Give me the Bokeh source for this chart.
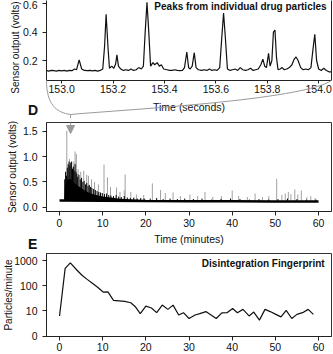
import numpy as np
from bokeh.plotting import figure
from bokeh.layouts import column
from bokeh.models import (Range1d, LinearAxis, FixedTicker, Label, Arrow, NormalHead,
                          PrintfTickFormatter)
from bokeh.core.properties import value
from bokeh.embed import file_html
from bokeh.resources import INLINE

FONT = "Liberation Sans"

# ---------------- Panel C: one-second window (seconds, volts) ----------------
c_time = [152.940, 152.950, 152.960, 152.970, 152.980, 152.990, 153.000, 153.010, 153.020, 153.030,
          153.040, 153.050, 153.058, 153.068, 153.078, 153.088, 153.100, 153.110, 153.120, 153.130,
          153.140, 153.150, 153.160, 153.167, 153.173, 153.180, 153.186, 153.195, 153.203, 153.210,
          153.215, 153.221, 153.230, 153.240, 153.250, 153.260, 153.270, 153.280, 153.290, 153.300,
          153.310, 153.318, 153.325, 153.332, 153.339, 153.346, 153.355, 153.362, 153.372, 153.380,
          153.388, 153.397, 153.410, 153.420, 153.430, 153.440, 153.450, 153.460, 153.470, 153.478,
          153.487, 153.494, 153.500, 153.508, 153.516, 153.523, 153.532, 153.545, 153.555, 153.565,
          153.575, 153.585, 153.595, 153.605, 153.615, 153.623, 153.630, 153.637, 153.645, 153.655,
          153.665, 153.675, 153.685, 153.695, 153.705, 153.715, 153.725, 153.735, 153.745, 153.755,
          153.765, 153.775, 153.783, 153.790, 153.797, 153.805, 153.811, 153.818, 153.824, 153.830,
          153.836, 153.842, 153.850, 153.858, 153.866, 153.876, 153.886, 153.896, 153.905, 153.912,
          153.920, 153.930, 153.940, 153.950, 153.960, 153.970, 153.978, 153.985, 153.992, 154.000,
          154.010, 154.020, 154.030, 154.040, 154.048]
c_volts = [0.130, 0.125, 0.130, 0.128, 0.125, 0.130, 0.127, 0.130, 0.125, 0.130,
           0.128, 0.140, 0.135, 0.205, 0.140, 0.130, 0.128, 0.130, 0.127, 0.130,
           0.125, 0.130, 0.140, 0.300, 0.525, 0.300, 0.145, 0.160, 0.145, 0.175,
           0.240, 0.160, 0.140, 0.130, 0.135, 0.130, 0.140, 0.130, 0.135, 0.150,
           0.140, 0.160, 0.400, 0.610, 0.400, 0.160, 0.185, 0.170, 0.185, 0.160,
           0.170, 0.140, 0.135, 0.130, 0.130, 0.135, 0.130, 0.128, 0.130, 0.150,
           0.260, 0.150, 0.140, 0.160, 0.255, 0.150, 0.135, 0.130, 0.135, 0.130,
           0.140, 0.130, 0.135, 0.130, 0.150, 0.360, 0.535, 0.360, 0.140, 0.130,
           0.135, 0.140, 0.130, 0.150, 0.135, 0.130, 0.135, 0.145, 0.130, 0.135,
           0.140, 0.170, 0.210, 0.160, 0.150, 0.250, 0.160, 0.200, 0.400, 0.415,
           0.220, 0.135, 0.140, 0.150, 0.135, 0.140, 0.150, 0.170, 0.210, 0.225,
           0.200, 0.150, 0.135, 0.140, 0.135, 0.150, 0.280, 0.385, 0.200, 0.140,
           0.130, 0.145, 0.130, 0.120, 0.120]
c_xticks = [153.0, 153.2, 153.4, 153.6, 153.8, 154.0]
c_yticks = [0.2, 0.4, 0.6]
c_xlim = (152.941, 154.050)
c_ylim = (0.059, 0.623)

# ---------------- Panel D: full 60-minute trace (minutes, volts) ----------------
d_base_time = [0.0, 10.0, 20.0, 30.0, 40.0, 50.0, 60.0]
d_base_volts = [0.13, 0.125, 0.12, 0.118, 0.115, 0.112, 0.11]
d_core_time = [1.1, 1.25, 1.5, 2.0, 2.5, 3.0, 3.5, 4.0, 5.0, 6.0, 7.0, 8.0, 9.0, 10.0, 11.0,
               12.0, 13.5, 15.0, 17.0, 19.0, 21.0]
d_core_volts = [0.13, 0.40, 0.50, 0.55, 0.56, 0.52, 0.48, 0.44, 0.38, 0.32, 0.28, 0.25, 0.23,
                0.21, 0.20, 0.19, 0.17, 0.16, 0.15, 0.14, 0.13]
d_black_time = [1.2, 1.4, 1.6, 1.8, 2.0, 2.2, 2.4, 2.6, 2.8, 3.0,
                3.2, 3.4, 3.6, 3.8, 4.0, 4.2, 4.5, 4.8, 5.1, 5.4,
                5.7, 6.0, 6.3, 6.6, 6.9, 7.2, 7.5, 7.9, 8.3, 8.7,
                9.1, 9.5, 9.9, 10.4, 10.9, 11.4, 11.9, 12.5, 13.1, 13.7,
                14.3, 15.0, 15.7, 16.4, 17.2, 18.0, 18.8, 19.6, 21.0, 22.5,
                24.0, 25.6, 27.3, 29.0, 31.0, 33.0, 35.2, 37.4, 39.6, 41.8,
                44.0, 46.2, 48.4, 50.6, 52.8, 55.0, 57.2, 59.4]
d_black_volts = [0.55, 0.70, 0.62, 0.78, 0.85, 0.90, 0.82, 0.88, 0.90, 0.76,
                 0.80, 0.72, 0.85, 0.70, 0.66, 0.60, 0.64, 0.55, 0.58, 0.50,
                 0.52, 0.45, 0.48, 0.42, 0.44, 0.40, 0.38, 0.36, 0.34, 0.32,
                 0.30, 0.29, 0.28, 0.26, 0.27, 0.24, 0.23, 0.22, 0.24, 0.21,
                 0.20, 0.22, 0.19, 0.18, 0.19, 0.17, 0.18, 0.17, 0.17, 0.18,
                 0.16, 0.17, 0.16, 0.17, 0.16, 0.17, 0.15, 0.16, 0.17, 0.16,
                 0.15, 0.16, 0.15, 0.16, 0.17, 0.16, 0.15, 0.15]
d_grey_time = [1.68, 2.3, 3.3, 3.6, 3.9, 4.3, 4.9, 5.6, 6.3, 6.7,
               7.4, 8.1, 9.0, 10.3, 11.1, 11.8, 13.2, 14.0, 15.0, 15.2,
               16.5, 17.8, 19.5, 21.5, 23.4, 24.5, 26.3, 28.0, 30.2, 32.0,
               33.7, 35.5, 37.5, 40.0, 41.5, 43.5, 45.3, 47.0, 48.5, 50.3,
               51.5, 52.3, 53.0, 53.6, 54.5, 55.2, 56.0, 57.3, 58.2, 59.2]
d_grey_volts = [1.51, 0.95, 0.90, 1.10, 1.05, 0.75, 0.70, 0.72, 0.64, 0.62,
                0.55, 0.50, 0.45, 0.84, 0.59, 0.40, 0.39, 0.30, 0.33, 0.645,
                0.30, 0.25, 0.24, 0.47, 0.34, 0.28, 0.29, 0.22, 0.25, 0.22,
                0.30, 0.20, 0.22, 0.33, 0.22, 0.20, 0.27, 0.20, 0.22, 0.56,
                0.24, 0.27, 0.30, 0.26, 0.35, 0.25, 0.33, 0.20, 0.22, 0.18]
d_xticks = [0, 10, 20, 30, 40, 50, 60]
d_yticks = [0.0, 0.5, 1.0, 1.5]
d_xlim = (-3.02, 63.0)
d_ylim = (-0.085, 1.672)

# ---------------- Panel E: particles per minute ----------------
e_time = [0.0, 1.3, 2.5, 4.0, 5.2, 6.4, 7.6, 8.9, 10.1, 11.2,
          12.5, 13.8, 15.1, 16.5, 17.5, 18.7, 20.0, 21.3, 22.5, 23.8,
          25.1, 26.3, 27.6, 28.7, 30.0, 31.4, 32.5, 33.9, 35.1, 36.3,
          37.6, 38.8, 40.1, 41.2, 42.5, 43.9, 45.0, 46.3, 47.6, 48.8,
          50.1, 51.3, 52.5, 53.8, 55.0, 56.3, 57.6, 58.8]
e_rate = [6.3, 490, 800, 420, 260, 178, 125, 85, 56, 57,
          26, 25, 24, 21, 15, 7.8, 15.5, 13, 8.5, 17,
          11.5, 17, 6.9, 8.5, 5.0, 6.9, 7.8, 9.4, 6.9, 5.0,
          8.3, 8.5, 12.5, 8.5, 11.5, 6.3, 9.0, 4.3, 11.5, 9.4,
          7.3, 5.8, 10.5, 5.0, 7.3, 8.5, 11.5, 7.3]
e_yticks = [1, 10, 100, 1000]
e_ytick_labels = {1: "0", 10: "10", 100: "100", 1000: "1000"}
e_ylim = (0.964, 1896.0)

FRAME_X = (40, 331)
C_FRAME_Y = (0, 80)     # canvas-local frame top/bottom of panel C
D_FRAME_Y = (4, 93)     # panel D canvas starts 118 px down the page
E_FRAME_Y = (1, 84)     # panel E canvas starts 252 px down the page


def px_x(lim, px):
    return lim[0] + (px - FRAME_X[0]) / (FRAME_X[1] - FRAME_X[0]) * (lim[1] - lim[0])


def px_y(lim, frame, py, log=False):
    top, bottom = frame
    if log:
        a, b = np.log10(lim[0]), np.log10(lim[1])
        return 10 ** (b - (py - top) / (bottom - top) * (b - a))
    return lim[1] - (py - top) / (bottom - top) * (lim[1] - lim[0])


def style(p, xlab, ylab):
    p.grid.visible = False
    p.background_fill_color = "white"
    p.border_fill_color = "white"
    for ax in p.axis:
        ax.major_label_text_font = FONT
        ax.major_label_text_font_size = "10.5px"
        ax.major_label_text_color = "#111111"
        ax.axis_label_text_font = FONT
        ax.axis_label_text_font_size = "10.5px"
        ax.axis_label_text_font_style = "normal"
        ax.axis_label_text_color = "#111111"
        ax.major_tick_in = 0
        ax.major_tick_out = 4
        ax.minor_tick_line_color = None
        ax.axis_line_color = "#222222"
        ax.major_tick_line_color = "#222222"
    p.xaxis.axis_label = xlab
    p.yaxis.axis_label = ylab
    p.yaxis.axis_label_text_font_size = "10px"
    p.yaxis.major_label_standoff = 5
    p.yaxis.axis_label_standoff = 2


def letter(p, x, y, txt):
    p.text(x=[x], y=[y], text=[txt], text_font=value(FONT), text_font_size=value("14px"),
           text_font_style="bold", text_color="#111111", text_align="left",
           text_baseline="middle", level="overlay")


common = dict(width=333, output_backend="svg", toolbar_location=None,
              min_border_left=40, min_border_right=2)
BR = "#9a9a9a"

# ---------------- C ----------------
pc = figure(height=118, x_range=Range1d(*c_xlim), y_range=Range1d(*c_ylim),
            min_border_top=0, min_border_bottom=38, outline_line_color=None, **common)
pc.line(c_time, c_volts, line_color="#111111", line_width=1.2)
pc.xaxis.ticker = FixedTicker(ticks=c_xticks)
pc.xaxis.formatter = PrintfTickFormatter(format="%.1f")
pc.yaxis.ticker = FixedTicker(ticks=c_yticks)
pc.yaxis.formatter = PrintfTickFormatter(format="%.1f")
style(pc, "Time (seconds)", None)
pc.xaxis.major_tick_out = 3
pc.xaxis.major_label_standoff = 1
pc.xaxis.axis_label_standoff = 5
right_edge = LinearAxis(ticker=FixedTicker(ticks=[]), major_tick_out=0, major_tick_in=0,
                        major_label_standoff=0, major_label_text_font_size="0px",
                        axis_line_color="#222222", minor_tick_line_color=None)
pc.add_layout(right_edge, "right")
# y title of C, set a little low so it stays on the canvas
pc.text(x=[px_x(c_xlim, 8)], y=[px_y(c_ylim, C_FRAME_Y, 47)], text=["Sensor output (volts)"],
        angle=np.pi / 2, text_font=value(FONT), text_font_size=value("10px"), text_color="#111111",
        text_align="center", text_baseline="middle", level="overlay")
pc.add_layout(Label(x=px_x(c_xlim, 326), y=px_y(c_ylim, C_FRAME_Y, 0), text="Peaks from individual drug particles",
                    text_font=FONT, text_font_size="10px", text_font_style="bold",
                    text_align="right", text_baseline="top", text_color="#111111"))
letter(pc, px_x(c_xlim, 21), px_y(c_ylim, C_FRAME_Y, 109), "D")

# bracket: the one-second window of C points at its own time in D
t_mid = np.mean(c_xlim) / 60.0
stem_px = FRAME_X[0] + (t_mid - d_xlim[0]) / (d_xlim[1] - d_xlim[0]) * (FRAME_X[1] - FRAME_X[0])
join_y = 114
cx = lambda v: px_x(c_xlim, v)
cy = lambda v: px_y(c_ylim, C_FRAME_Y, v)
pc.bezier(x0=[cx(FRAME_X[0]), cx(FRAME_X[1])], y0=[c_ylim[0], c_ylim[0]],
          x1=[cx(stem_px), cx(stem_px)], y1=[cy(join_y), cy(join_y)],
          cx0=[cx(40), cx(300)], cy0=[cy(104), cy(100)],
          cx1=[cx(50), cx(120)], cy1=[cy(112), cy(109)],
          line_color=BR, line_width=1, level="overlay")
pc.segment(x0=[cx(stem_px)], y0=[cy(join_y)], x1=[cx(stem_px)], y1=[cy(125)],
           line_color=BR, line_width=1, level="overlay")

# ---------------- D ----------------
pd_ = figure(height=134, x_range=Range1d(*d_xlim), y_range=Range1d(*d_ylim),
             min_border_top=4, min_border_bottom=41, outline_line_color="#333333", **common)
base_at = lambda t: np.interp(t, d_base_time, d_base_volts)
pd_.segment(x0=d_grey_time, y0=base_at(d_grey_time), x1=d_grey_time, y1=d_grey_volts,
            line_color="#a0a0a0", line_width=1)
pd_.varea(x=d_core_time, y1=base_at(d_core_time), y2=d_core_volts, fill_color="#000000")
pd_.segment(x0=d_black_time, y0=base_at(d_black_time), x1=d_black_time, y1=d_black_volts,
            line_color="#000000", line_width=1)
pd_.line(d_base_time, d_base_volts, line_color="#000000", line_width=2.5)
pd_.xaxis.ticker = FixedTicker(ticks=d_xticks)
pd_.yaxis.ticker = FixedTicker(ticks=d_yticks)
pd_.yaxis.formatter = PrintfTickFormatter(format="%.1f")
style(pd_, "Time (minutes)", "Sensor output (volts)")
pd_.xaxis.major_label_standoff = 3
pd_.xaxis.axis_label_standoff = 3
pd_.add_layout(Arrow(end=NormalHead(size=8, fill_color=BR, line_color=BR),
                     x_start=t_mid, y_start=px_y(d_ylim, D_FRAME_Y, -10),
                     x_end=t_mid, y_end=px_y(d_ylim, D_FRAME_Y, 15),
                     line_color=BR, line_width=1))
letter(pd_, px_x(d_xlim, 21), px_y(d_ylim, D_FRAME_Y, 125), "E")

# ---------------- E ----------------
pe = figure(height=102, x_range=Range1d(*d_xlim), y_range=Range1d(*e_ylim), y_axis_type="log",
            min_border_top=1, min_border_bottom=18, outline_line_color="#333333", **common)
pe.line(e_time, e_rate, line_color="#111111", line_width=1.2)
pe.xaxis.ticker = FixedTicker(ticks=d_xticks)
pe.yaxis.ticker = FixedTicker(ticks=e_yticks)
pe.yaxis.formatter = PrintfTickFormatter(format="%d")
pe.yaxis.major_label_overrides = e_ytick_labels
style(pe, None, "Particles/minute")
pe.xaxis.major_label_standoff = 2
pe.yaxis.axis_label_standoff = -3
pe.add_layout(Label(x=px_x(d_xlim, 324), y=px_y(e_ylim, E_FRAME_Y, 11, log=True), text="Disintegration Fingerprint",
                    text_font=FONT, text_font_size="10px", text_font_style="bold",
                    text_align="right", text_baseline="middle", text_color="#111111"))

layout = column(pc, pd_, pe, spacing=0)
open("out.html", "w").write(file_html(layout, INLINE))
